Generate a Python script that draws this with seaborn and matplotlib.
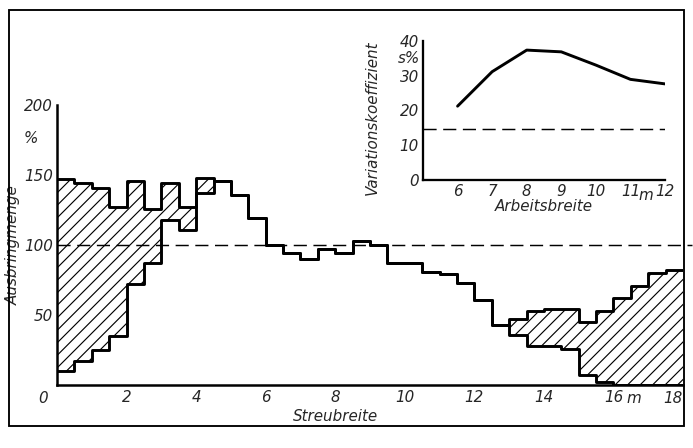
import numpy as np
import matplotlib.pyplot as plt
import seaborn as sns
from matplotlib.patches import Rectangle

# Querverteilung in 0.5-m-Streifen (0 ... 18 m)
oben = [147, 144, 141, 127, 146, 126, 144, 127, 148, 146, 136, 119,
        100, 94, 90, 97, 94, 103, 100, 87, 87, 81, 79, 73,
        61, 43, 47, 53, 54, 54, 45, 53, 62, 71, 80, 82]
unten = [10, 17, 25, 35, 72, 87, 118, 111, 137, 146, 136, 119,
         100, 94, 90, 97, 94, 103, 100, 87, 87, 81, 79, 73,
         61, 43, 36, 28, 28, 26, 7, 2, 0, 0, 0, 0]
streifen = 0.5

# Variationskoeffizient ueber Arbeitsbreite
arbeitsbreite = [6, 7, 8, 9, 10, 11, 12]
variation = [21.2, 31.1, 37.3, 36.8, 33.0, 28.9, 27.6]
grenzwert = 14.6

xticks_main = [2, 4, 6, 8, 10, 12, 14, 16]
yticks_main = [50, 100, 150, 200]
xticks_ins = [6, 7, 8, 9, 10, 11, 12]
yticks_ins = [0, 10, 20, 30, 40]

sns.set_style("white")
plt.rcParams["font.family"] = ["Liberation Sans Narrow", "DejaVu Sans"]
plt.rcParams["font.style"] = "italic"
plt.rcParams["hatch.linewidth"] = 1.1

W, H, DPI = 693, 448, 75
fs = 14.5
fig = plt.figure(figsize=(W / DPI, H / DPI), dpi=DPI)

def fx(px):
    return px / W

def fy(py):
    return (H - py) / H

# outer frame
fig.patches.append(Rectangle((fx(9), fy(426)), fx(684) - fx(9), fy(10) - fy(426),
                             transform=fig.transFigure, fill=False,
                             edgecolor="black", linewidth=1.8))

# main chart
ax = fig.add_axes([fx(57), fy(385), fx(683) - fx(57), fy(105) - fy(385)])
edges = np.arange(0, 18 + streifen, streifen)
top_ext = np.append(oben, oben[-1])
low_ext = np.append(unten, unten[-1])

ax.fill_between(edges, low_ext, top_ext, step="post", facecolor="none",
                edgecolor="black", hatch="//", linewidth=0)
sns.lineplot(x=edges, y=top_ext, ax=ax, drawstyle="steps-post", color="black",
             linewidth=2.8, sort=False, estimator=None)
sns.lineplot(x=edges, y=low_ext, ax=ax, drawstyle="steps-post", color="black",
             linewidth=2.8, sort=False, estimator=None)
ax.plot([0, 18.25], [100, 100], color="black", linewidth=1.4,
        dashes=(9, 4.5), clip_on=False)

ax.set_xlim(0, 18)
ax.set_ylim(0, 200)
for s in ["top", "right"]:
    ax.spines[s].set_visible(False)
for s in ["left", "bottom"]:
    ax.spines[s].set_linewidth(2.4)
    ax.spines[s].set_color("black")
ax.set_xticks(xticks_main)
ax.set_xticklabels([str(t) for t in xticks_main], fontsize=fs)
ax.set_yticks(yticks_main)
ax.set_yticklabels([str(t) for t in yticks_main], fontsize=fs)
ax.tick_params(axis="x", direction="in", length=12, width=1.4, pad=5)
ax.tick_params(axis="y", direction="in", length=11, width=1.4, pad=4)
ax.text(-0.4, -4.5, "0", fontsize=fs, ha="center", va="top")
ax.text(16.6, -4.5, "m", fontsize=fs, ha="center", va="top")
ax.text(17.7, -4.5, "18", fontsize=fs, ha="center", va="top")
ax.text(-0.75, 176, "%", fontsize=fs, ha="center", va="center")
ax.set_xlabel("Streubreite", fontsize=fs)
ax.xaxis.set_label_coords(0.445, -0.085)
ax.set_ylabel("Ausbringmenge", fontsize=fs)
ax.yaxis.set_label_coords(-0.058, 0.5)

# inset: Variationskoeffizient
ins = fig.add_axes([fx(423), fy(180), fx(665) - fx(423), fy(40.7) - fy(180)])
sns.lineplot(x=arbeitsbreite, y=variation, ax=ins, color="black", linewidth=2.8)
ins.plot([5.0, 12], [grenzwert, grenzwert], color="black", linewidth=1.4,
         dashes=(9, 4.5))
ins.set_xlim(5.0, 12)
ins.set_ylim(0, 40)
ins.set_facecolor("none")
for s in ["top", "right"]:
    ins.spines[s].set_visible(False)
for s in ["left", "bottom"]:
    ins.spines[s].set_linewidth(2.2)
    ins.spines[s].set_color("black")
ins.set_xticks(xticks_ins)
ins.set_xticklabels([str(t) for t in xticks_ins], fontsize=fs)
ins.set_yticks(yticks_ins)
ins.set_yticklabels([str(t) for t in yticks_ins], fontsize=fs)
ins.tick_params(axis="both", direction="in", length=9, width=1.4, pad=4)
ins.text(11.45, -2.4, "m", fontsize=fs, ha="center", va="top")
ins.text(4.6, 35.0, "s%", fontsize=fs, ha="center", va="center")
ins.set_xlabel("Arbeitsbreite", fontsize=fs, labelpad=0)
ins.set_ylabel("Variationskoeffizient", fontsize=fs)
ins.yaxis.set_label_coords(-0.18, 0.45)

fig.savefig("out.png", dpi=DPI)
